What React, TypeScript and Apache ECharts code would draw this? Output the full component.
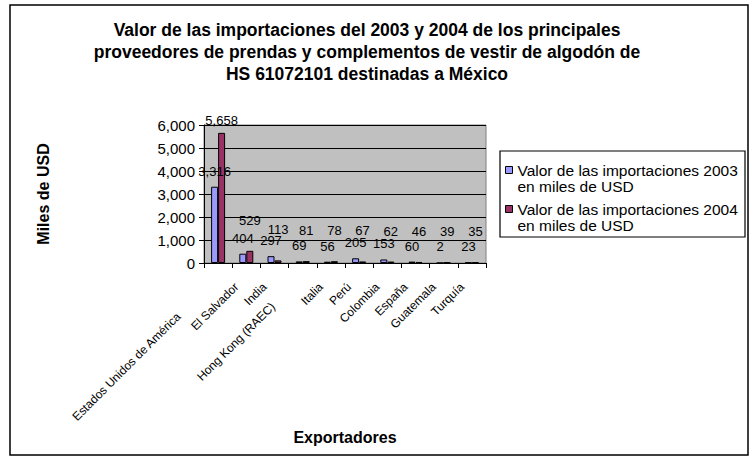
import React, { useEffect, useRef } from "react";
import * as echarts from "echarts";

const categories = [
  "Estados Unidos de América",
  "El Salvador",
  "India",
  "Hong Kong (RAEC)",
  "Italia",
  "Perú",
  "Colombia",
  "España",
  "Guatemala",
  "Turquía",
];
const values2003 = [3316, 404, 297, 69, 56, 205, 153, 60, 2, 23];
const values2004 = [5658, 529, 113, 81, 78, 67, 62, 46, 39, 35];
const seriesNames = [
  "Valor de las importaciones 2003 en miles de USD",
  "Valor de las importaciones 2004 en miles de USD",
];
const titleText =
  "Valor de las importaciones del 2003 y 2004 de los principales\nproveedores de prendas y complementos de vestir de algodón de\nHS 61072101 destinadas a México";
const yAxisName = "Miles de USD";
const xAxisName = "Exportadores";

const FONT = "'Liberation Sans', Arial, sans-serif";
const fmt = (v: number) => v.toLocaleString("en-US");

export default function App() {
  const ref = useRef<HTMLDivElement>(null);
  useEffect(() => {
    if (!ref.current) return;
    const chart = echarts.init(ref.current, null, { renderer: "svg" });
    const staggerStyle: Record<number, string> = { 0: "s1", 3: "s2" };
    chart.setOption({
      animation: false,
      backgroundColor: "#ffffff",
      textStyle: { fontFamily: FONT },
      title: {
        text: titleText,
        left: 367,
        top: 19,
        padding: 0,
        textAlign: "center",
        textStyle: {
          fontFamily: FONT,
          fontSize: 17.5,
          fontWeight: "bold",
          color: "#000",
          lineHeight: 22,
        },
      },
      legend: {
        orient: "vertical",
        left: 505,
        top: 146,
        padding: 0,
        itemGap: -9,
        itemWidth: 7,
        itemHeight: 7,
        icon: "rect",
        itemStyle: { borderColor: "#000", borderWidth: 1 },
        formatter: (name: string) => "\n" + name.replace(" en miles", "\nen miles"),
        textStyle: {
          fontFamily: FONT,
          fontSize: 15.5,
          lineHeight: 16,
          color: "#000",
        },
        data: seriesNames,
      },
      grid: {
        left: 204,
        right: 265,
        top: 125,
        bottom: 197,
        show: true,
        backgroundColor: "#C0C0C0",
        borderColor: "#808080",
        borderWidth: 1,
      },
      xAxis: {
        type: "category",
        data: categories,
        name: xAxisName,
        nameLocation: "middle",
        nameGap: 166,
        nameTextStyle: { fontFamily: FONT, fontSize: 16, fontWeight: "bold", color: "#000" },
        axisLine: { lineStyle: { color: "#000", width: 1 } },
        axisTick: { show: true, length: 5, lineStyle: { color: "#000" } },
        axisLabel: {
          interval: 0,
          rotate: 45,
          margin: 12,
          fontFamily: FONT,
          fontSize: 12,
          color: "#000",
          formatter: (v: string, i: number) => `{${staggerStyle[i] || "n"}|${v}}`,
          rich: {
            n: { fontFamily: FONT, fontSize: 12, color: "#000", padding: [0, 14, 0, 0] },
            s1: { fontFamily: FONT, fontSize: 12, color: "#000", padding: [0, 56, 0, 0] },
            s2: { fontFamily: FONT, fontSize: 12, color: "#000", padding: [0, 42, 0, 0] },
          },
        },
      },
      yAxis: {
        type: "value",
        min: 0,
        max: 6000,
        interval: 1000,
        name: yAxisName,
        nameLocation: "middle",
        nameGap: 153,
        nameTextStyle: { fontFamily: FONT, fontSize: 16, fontWeight: "bold", color: "#000" },
        axisLine: { show: true, lineStyle: { color: "#000", width: 1 } },
        axisTick: { show: true, length: 5, lineStyle: { color: "#000" } },
        axisLabel: {
          fontFamily: FONT,
          fontSize: 15,
          color: "#000",
          margin: 9,
          formatter: (v: number) => fmt(v),
        },
        splitLine: { show: true, lineStyle: { color: "#000", width: 1 } },
      },
      series: [
        {
          name: seriesNames[0],
          type: "bar",
          data: values2003,
          barWidth: 7,
          barGap: "0%",
          itemStyle: { color: "#9999FF", borderColor: "#000", borderWidth: 1 },
          label: {
            show: true,
            position: "top",
            distance: 9,
            fontFamily: FONT,
            fontSize: 13,
            color: "#000",
            formatter: (p: any) => fmt(p.value),
          },
        },
        {
          name: seriesNames[1],
          type: "bar",
          data: values2004.map((v, i) =>
            i === 0 ? { value: v, label: { distance: 6 } } : v
          ),
          barWidth: 7,
          barGap: "0%",
          itemStyle: { color: "#993366", borderColor: "#000", borderWidth: 1 },
          label: {
            show: true,
            position: "top",
            distance: 24,
            fontFamily: FONT,
            fontSize: 13,
            color: "#000",
            formatter: (p: any) => fmt(p.value),
          },
        },
      ],
      graphic: [
        {
          type: "rect",
          shape: { x: 10, y: 5, width: 738, height: 450 },
          style: { fill: "none", stroke: "#000", lineWidth: 1.5 },
          silent: true,
        },
        {
          type: "rect",
          shape: { x: 500, y: 151, width: 245, height: 86 },
          style: { fill: "none", stroke: "#000", lineWidth: 1.2 },
          silent: true,
        },
      ],
    });
    return () => chart.dispose();
  }, []);
  return (
    <div
      ref={ref}
      style={{ position: "fixed", left: 0, top: 0, width: 751, height: 460 }}
    />
  );
}
